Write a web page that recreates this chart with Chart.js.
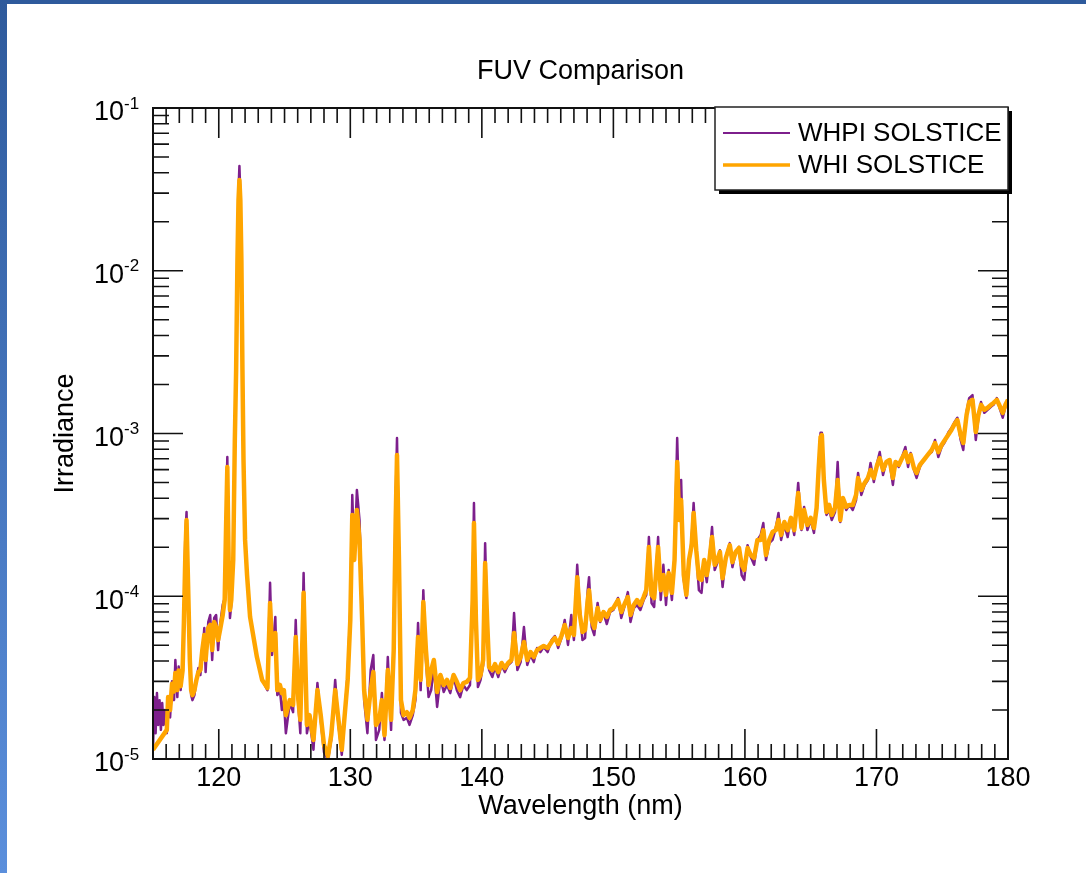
<!DOCTYPE html>
<html>
<head>
<meta charset="utf-8">
<title>FUV Comparison</title>
<script src="https://cdn.jsdelivr.net/npm/chart.js@4.4.1/dist/chart.umd.min.js"></script>
<style>
  html, body { margin: 0; padding: 0; background: #fff; }
  #wrap { position: relative; width: 1086px; height: 873px; overflow: hidden; }
  #wrap canvas { position: absolute; left: 0; top: 0; }
  .edge-top { position: absolute; left: 0; top: 0; width: 1086px; height: 4px; background: #2e5a9c; }
  .edge-left { position: absolute; left: 0; top: 0; width: 7px; height: 873px; background: linear-gradient(#2e5a9c, #5b8fdc); }
</style>
</head>
<body>
<div id="wrap">
  <canvas id="fuvChart" width="1086" height="873"></canvas>
  <div class="edge-top"></div>
  <div class="edge-left"></div>
</div>
<script>
// FUV solar irradiance, two SOLSTICE reference spectra

const wavelength = [
  115.0, 115.1, 115.2, 115.3, 115.4, 115.5, 115.6, 115.7, 115.8, 115.9,
  116.05, 116.15, 116.3, 116.45, 116.6, 116.7, 116.85, 116.95, 117.1, 117.25,
  117.35, 117.45, 117.55, 117.65, 117.8, 117.9, 118.0, 118.15, 118.3, 118.45,
  118.6, 118.75, 118.9, 119.0, 119.2, 119.35, 119.5, 119.65, 119.8, 119.95,
  120.1, 120.3, 120.45, 120.55, 120.65, 120.75, 120.85, 120.95, 121.1, 121.22,
  121.32, 121.42, 121.5, 121.57, 121.64, 121.72, 121.8, 121.88, 122.0, 122.15,
  122.38, 122.9, 123.3, 123.7, 123.9, 124.05, 124.3, 124.45, 124.65, 124.8,
  124.95, 125.1, 125.4, 125.65, 125.85, 126.05, 126.2, 126.45, 126.7, 126.9,
  127.2, 127.5, 127.75, 128.0, 128.3, 128.55, 128.85, 129.1, 129.35, 129.8,
  130.0, 130.15, 130.3, 130.5, 130.7, 130.9, 131.05, 131.3, 131.55, 131.75,
  131.95, 132.2, 132.4, 132.6, 132.85, 133.1, 133.3, 133.45, 133.55, 133.7,
  133.85, 134.05, 134.3, 134.5, 134.75, 134.95, 135.15, 135.35, 135.55, 135.75,
  135.95, 136.15, 136.35, 136.6, 136.85, 137.1, 137.35, 137.6, 137.85, 138.1,
  138.35, 138.6, 138.85, 139.1, 139.3, 139.4, 139.55, 139.7, 139.9, 140.1,
  140.25, 140.4, 140.55, 140.8, 141.0, 141.25, 141.5, 141.75, 142.0, 142.25,
  142.45, 142.7, 142.95, 143.2, 143.45, 143.7, 143.95, 144.2, 144.45, 144.7,
  145.0, 145.3, 145.55, 145.8, 146.05, 146.3, 146.55, 146.8, 147.0, 147.25,
  147.45, 147.65, 147.85, 148.05, 148.15, 148.35, 148.55, 148.8, 149.0, 149.25,
  149.5, 149.75, 150.0, 150.35, 150.6, 150.85, 151.1, 151.3, 151.55, 151.8,
  152.05, 152.3, 152.5, 152.7, 152.9, 153.1, 153.4, 153.6, 153.8, 154.0,
  154.2, 154.45, 154.65, 154.85, 155.0, 155.15, 155.35, 155.55, 155.75, 155.95,
  156.1, 156.3, 156.5, 156.7, 156.9, 157.1, 157.3, 157.5, 157.7, 157.9,
  158.1, 158.3, 158.55, 158.85, 159.05, 159.3, 159.55, 159.75, 159.95, 160.2,
  160.45, 160.7, 160.95, 161.2, 161.4, 161.6, 161.85, 162.1, 162.35, 162.55,
  162.75, 163.0, 163.25, 163.5, 163.75, 164.05, 164.3, 164.5, 164.75, 165.0,
  165.25, 165.45, 165.6, 165.75, 165.85, 166.0, 166.2, 166.4, 166.6, 166.85,
  167.05, 167.25, 167.45, 167.7, 167.95, 168.2, 168.45, 168.6, 168.85, 169.1,
  169.35, 169.55, 169.8, 170.05, 170.25, 170.5, 170.75, 171.0, 171.25, 171.45,
  171.7, 171.95, 172.2, 172.4, 172.6, 172.85, 173.05, 173.3, 173.6, 173.9,
  174.2, 174.45, 174.7, 174.95, 175.2, 175.45, 175.7, 175.9, 176.15, 176.4,
  176.6, 176.85, 177.05, 177.3, 177.55, 177.75, 177.95, 178.2, 178.45, 178.7,
  178.9, 179.15, 179.4, 179.6, 179.8, 180.0
];

// WHPI SOLSTICE irradiance
const whpi = [
  1.14e-5, 2.40e-5, 1.44e-5, 2.54e-5, 1.62e-5, 2.30e-5, 1.51e-5, 2.21e-5, 1.62e-5, 2.00e-5,
  1.44e-5, 2.30e-5, 1.80e-5, 3.00e-5, 2.30e-5, 4.06e-5, 2.40e-5, 3.70e-5, 2.65e-5, 3.60e-5,
  7.00e-5, 2.22e-4, 3.29e-4, 1.45e-4, 4.06e-5, 2.47e-5, 2.30e-5, 2.47e-5, 3.06e-5, 3.62e-5,
  3.28e-5, 4.36e-5, 6.38e-5, 3.42e-5, 6.95e-5, 7.67e-5, 4.06e-5, 7.35e-5, 7.67e-5, 4.67e-5,
  6.66e-5, 8.84e-5, 9.75e-5, 2.94e-4, 7.17e-4, 1.67e-4, 7.35e-5, 8.84e-5, 1.67e-4, 9.10e-4,
  2.46e-3, 1.16e-2, 3.10e-2, 4.40e-2, 2.90e-2, 1.16e-2, 2.46e-3, 6.90e-4, 2.22e-4, 1.35e-4,
  7.46e-5, 4.23e-5, 3.06e-5, 2.65e-5, 1.21e-4, 4.36e-5, 7.46e-5, 2.47e-5, 2.65e-5, 2.00e-5,
  2.30e-5, 1.44e-5, 2.21e-5, 1.94e-5, 7.15e-5, 2.15e-5, 1.44e-5, 1.39e-4, 1.44e-5, 1.74e-5,
  1.14e-5, 2.93e-5, 1.74e-5, 1.10e-5, 9.86e-6, 1.31e-5, 3.06e-5, 1.62e-5, 1.06e-5, 3.38e-5,
  8.23e-5, 4.19e-4, 1.67e-4, 4.50e-4, 2.94e-4, 8.59e-5, 2.30e-5, 1.44e-5, 3.52e-5, 4.36e-5,
  1.31e-5, 1.51e-5, 2.54e-5, 1.31e-5, 4.23e-5, 1.51e-5, 5.38e-5, 3.90e-4, 9.38e-4, 1.79e-4,
  1.92e-5, 1.74e-5, 1.79e-5, 1.62e-5, 1.86e-5, 2.30e-5, 6.85e-5, 2.65e-5, 1.09e-4, 4.06e-5,
  2.40e-5, 2.65e-5, 3.67e-5, 2.09e-5, 3.15e-5, 2.58e-5, 2.85e-5, 2.54e-5, 3.19e-5, 2.65e-5,
  2.40e-5, 2.85e-5, 2.65e-5, 2.85e-5, 1.09e-4, 3.74e-4, 7.67e-5, 2.77e-5, 3.06e-5, 3.78e-5,
  2.12e-4, 7.15e-5, 3.52e-5, 3.19e-5, 3.67e-5, 3.19e-5, 3.78e-5, 3.42e-5, 3.78e-5, 3.94e-5,
  7.89e-5, 3.52e-5, 3.94e-5, 6.47e-5, 3.78e-5, 4.36e-5, 3.94e-5, 4.81e-5, 4.54e-5, 4.88e-5,
  4.54e-5, 5.38e-5, 5.70e-5, 4.81e-5, 5.54e-5, 7.15e-5, 5.02e-5, 7.67e-5, 5.38e-5, 1.56e-4,
  8.23e-5, 5.38e-5, 5.54e-5, 1.09e-4, 1.31e-4, 6.47e-5, 5.78e-5, 9.09e-5, 6.95e-5, 7.89e-5,
  6.75e-5, 8.00e-5, 8.23e-5, 9.75e-5, 7.35e-5, 8.71e-5, 1.06e-4, 6.95e-5, 8.47e-5, 8.84e-5,
  8.23e-5, 9.48e-5, 1.02e-4, 2.31e-4, 9.09e-5, 8.59e-5, 2.31e-4, 9.48e-5, 1.56e-4, 8.84e-5,
  1.45e-4, 9.48e-5, 1.79e-4, 9.38e-4, 3.39e-4, 5.18e-4, 1.26e-4, 9.75e-5, 1.62e-4, 2.22e-4,
  3.74e-4, 1.87e-4, 1.09e-4, 1.05e-4, 1.60e-4, 1.22e-4, 1.72e-4, 2.66e-4, 1.45e-4, 1.60e-4,
  1.92e-4, 1.14e-4, 1.74e-4, 2.12e-4, 1.51e-4, 1.87e-4, 2.01e-4, 1.35e-4, 1.26e-4, 2.06e-4,
  1.74e-4, 1.56e-4, 2.22e-4, 2.38e-4, 2.82e-4, 1.67e-4, 2.12e-4, 2.22e-4, 2.63e-4, 3.25e-4,
  2.22e-4, 2.74e-4, 2.31e-4, 3.03e-4, 2.38e-4, 4.97e-4, 2.55e-4, 3.54e-4, 2.55e-4, 2.94e-4,
  2.45e-4, 3.64e-4, 5.97e-4, 1.01e-3, 1.01e-3, 5.04e-4, 3.16e-4, 3.39e-4, 2.94e-4, 3.29e-4,
  6.68e-4, 2.86e-4, 3.90e-4, 3.39e-4, 3.64e-4, 3.39e-4, 3.90e-4, 5.72e-4, 4.19e-4, 4.83e-4,
  5.18e-4, 6.59e-4, 5.04e-4, 6.59e-4, 7.69e-4, 5.56e-4, 6.68e-4, 6.68e-4, 4.83e-4, 6.68e-4,
  6.23e-4, 7.17e-4, 8.26e-4, 6.23e-4, 7.59e-4, 5.97e-4, 5.33e-4, 6.23e-4, 6.87e-4, 7.38e-4,
  7.69e-4, 9.12e-4, 7.17e-4, 8.26e-4, 8.87e-4, 1.01e-3, 1.08e-3, 1.16e-3, 1.25e-3, 9.12e-4,
  7.92e-4, 1.36e-3, 1.65e-3, 1.72e-3, 9.12e-4, 1.25e-3, 1.56e-3, 1.34e-3, 1.40e-3, 1.46e-3,
  1.50e-3, 1.65e-3, 1.40e-3, 1.25e-3, 1.46e-3, 1.61e-3
];

// WHI SOLSTICE irradiance (no samples between 115.0 and 116.05 nm)
const whi = [
  1.14e-5, null, null, null, null, null, null, null, null, null,
  1.51e-5, 2.40e-5, 2.00e-5, 2.90e-5, 2.60e-5, 3.38e-5, 2.65e-5, 3.50e-5, 2.80e-5, 3.50e-5,
  7.00e-5, 1.67e-4, 2.94e-4, 1.35e-4, 4.06e-5, 2.65e-5, 2.47e-5, 2.65e-5, 3.06e-5, 3.42e-5,
  3.52e-5, 4.67e-5, 5.78e-5, 4.06e-5, 6.38e-5, 6.66e-5, 4.67e-5, 6.95e-5, 6.47e-5, 5.38e-5,
  6.21e-5, 7.67e-5, 9.48e-5, 2.55e-4, 6.23e-4, 1.67e-4, 8.23e-5, 9.48e-5, 1.67e-4, 9.10e-4,
  2.46e-3, 1.16e-2, 2.72e-2, 3.61e-2, 2.72e-2, 1.16e-2, 2.46e-3, 6.90e-4, 2.22e-4, 1.35e-4,
  7.46e-5, 4.23e-5, 3.06e-5, 2.73e-5, 9.09e-5, 4.67e-5, 5.94e-5, 2.65e-5, 2.85e-5, 2.54e-5,
  2.65e-5, 1.86e-5, 2.30e-5, 2.15e-5, 5.62e-5, 2.30e-5, 1.74e-5, 1.05e-4, 1.62e-5, 1.86e-5,
  1.31e-5, 2.65e-5, 1.86e-5, 1.22e-5, 1.04e-5, 1.40e-5, 2.65e-5, 1.74e-5, 1.14e-5, 3.06e-5,
  7.15e-5, 3.16e-4, 1.67e-4, 3.39e-4, 2.22e-4, 7.15e-5, 2.65e-5, 1.74e-5, 2.65e-5, 3.42e-5,
  1.62e-5, 1.74e-5, 2.30e-5, 1.40e-5, 3.52e-5, 1.74e-5, 4.67e-5, 2.94e-4, 7.38e-4, 1.67e-4,
  2.30e-5, 1.86e-5, 1.94e-5, 1.79e-5, 2.00e-5, 2.65e-5, 5.62e-5, 3.06e-5, 9.22e-5, 4.67e-5,
  2.85e-5, 3.52e-5, 4.06e-5, 2.58e-5, 3.28e-5, 2.85e-5, 3.06e-5, 2.73e-5, 3.28e-5, 2.98e-5,
  2.65e-5, 2.93e-5, 2.98e-5, 3.15e-5, 9.48e-5, 2.82e-4, 7.15e-5, 3.06e-5, 3.28e-5, 4.06e-5,
  1.60e-4, 7.15e-5, 3.67e-5, 3.52e-5, 3.83e-5, 3.42e-5, 3.89e-5, 3.62e-5, 3.89e-5, 4.06e-5,
  5.94e-5, 3.83e-5, 4.23e-5, 5.24e-5, 4.06e-5, 4.54e-5, 4.23e-5, 4.67e-5, 4.81e-5, 4.95e-5,
  4.81e-5, 5.24e-5, 5.54e-5, 5.09e-5, 5.70e-5, 6.66e-5, 5.54e-5, 6.38e-5, 5.78e-5, 1.31e-4,
  7.67e-5, 6.03e-5, 6.21e-5, 9.48e-5, 1.09e-4, 7.15e-5, 6.38e-5, 8.47e-5, 7.15e-5, 8.00e-5,
  7.46e-5, 8.23e-5, 8.47e-5, 9.48e-5, 8.00e-5, 8.96e-5, 9.89e-5, 7.67e-5, 8.84e-5, 9.48e-5,
  8.84e-5, 9.89e-5, 1.09e-4, 2.01e-4, 1.02e-4, 9.75e-5, 2.01e-4, 1.09e-4, 1.35e-4, 1.02e-4,
  1.39e-4, 1.05e-4, 1.67e-4, 6.68e-4, 2.94e-4, 3.90e-4, 1.35e-4, 1.02e-4, 1.67e-4, 2.06e-4,
  3.25e-4, 1.92e-4, 1.29e-4, 1.26e-4, 1.67e-4, 1.35e-4, 1.67e-4, 2.31e-4, 1.56e-4, 1.67e-4,
  1.87e-4, 1.29e-4, 1.72e-4, 2.06e-4, 1.62e-4, 1.87e-4, 1.98e-4, 1.56e-4, 1.45e-4, 1.98e-4,
  1.79e-4, 1.72e-4, 2.22e-4, 2.22e-4, 2.55e-4, 1.79e-4, 2.22e-4, 2.48e-4, 2.55e-4, 2.94e-4,
  2.38e-4, 2.86e-4, 2.55e-4, 3.03e-4, 2.55e-4, 4.31e-4, 2.63e-4, 3.39e-4, 2.74e-4, 3.03e-4,
  2.63e-4, 3.49e-4, 5.97e-4, 9.52e-4, 9.79e-4, 5.18e-4, 3.29e-4, 3.64e-4, 3.16e-4, 3.49e-4,
  5.18e-4, 2.94e-4, 4.01e-4, 3.54e-4, 3.64e-4, 3.64e-4, 4.19e-4, 5.33e-4, 4.50e-4, 4.97e-4,
  5.33e-4, 5.97e-4, 5.33e-4, 6.41e-4, 7.07e-4, 5.97e-4, 6.68e-4, 6.87e-4, 5.33e-4, 6.68e-4,
  6.41e-4, 7.07e-4, 7.69e-4, 6.68e-4, 7.38e-4, 6.14e-4, 5.72e-4, 6.41e-4, 6.87e-4, 7.38e-4,
  7.92e-4, 8.74e-4, 7.69e-4, 8.50e-4, 9.12e-4, 9.79e-4, 1.05e-3, 1.13e-3, 1.21e-3, 9.79e-4,
  8.74e-4, 1.30e-3, 1.56e-3, 1.61e-3, 1.02e-3, 1.30e-3, 1.50e-3, 1.40e-3, 1.44e-3, 1.50e-3,
  1.54e-3, 1.61e-3, 1.46e-3, 1.34e-3, 1.50e-3, 1.61e-3
];

const seriesNames = ['WHPI SOLSTICE', 'WHI SOLSTICE'];
const seriesColors = ['#7d1f8c', '#ffa500'];

// axis ranges and labelled ticks
const xMin = 115, xMax = 180;
const xTickLabels = [120, 130, 140, 150, 160, 170, 180];
const yMin = 1e-5, yMax = 1e-1;
const yExponents = [-1, -2, -3, -4, -5];

const FONT = '"Liberation Sans", Arial, Helvetica, sans-serif';

function toPoints(values) {
  return wavelength.map((w, i) => ({ x: w, y: values[i] }));
}

// inward ticks on all four sides, the box, and all the text
const plotFrame = {
  id: 'plotFrame',
  afterDatasetsDraw(chart) {
    const { ctx, chartArea: a, scales: { x, y } } = chart;
    ctx.save();
    ctx.strokeStyle = '#111';
    ctx.lineWidth = 1.6;
    ctx.beginPath();
    for (let w = xMin; w <= xMax; w++) {
      const px = x.getPixelForValue(w);
      const len = w % 10 === 0 ? 30 : 15;
      ctx.moveTo(px, a.bottom); ctx.lineTo(px, a.bottom - len);
      ctx.moveTo(px, a.top); ctx.lineTo(px, a.top + len);
    }
    for (let e = -5; e <= -1; e++) {
      for (let m = 1; m <= 9; m++) {
        const v = m * Math.pow(10, e);
        if (v > yMax * 1.0001) break;
        const py = y.getPixelForValue(v);
        const len = m === 1 ? 30 : 16;
        ctx.moveTo(a.left, py); ctx.lineTo(a.left + len, py);
        ctx.moveTo(a.right, py); ctx.lineTo(a.right - len, py);
      }
    }
    ctx.stroke();

    ctx.lineWidth = 2;
    ctx.strokeRect(a.left, a.top, a.right - a.left, a.bottom - a.top);

    ctx.fillStyle = '#000';
    ctx.textBaseline = 'middle';

    // x tick labels
    ctx.font = '27px ' + FONT;
    ctx.textAlign = 'center';
    xTickLabels.forEach(v => ctx.fillText(String(v), x.getPixelForValue(v), a.bottom + 20));

    // y tick labels as 10 with a raised exponent
    yExponents.forEach(e => {
      const py = y.getPixelForValue(Math.pow(10, e));
      ctx.font = '27px ' + FONT;
      ctx.textAlign = 'right';
      ctx.fillText('10', 124, py + 5);
      ctx.font = '17px ' + FONT;
      ctx.textAlign = 'left';
      ctx.fillText(String(e), 124, py - 4);
    });

    // titles
    ctx.font = '27px ' + FONT;
    ctx.textAlign = 'center';
    ctx.fillText('FUV Comparison', (a.left + a.right) / 2, 72);
    ctx.fillText('Wavelength (nm)', (a.left + a.right) / 2, a.bottom + 48);
    ctx.save();
    ctx.translate(66, (a.top + a.bottom) / 2);
    ctx.rotate(-Math.PI / 2);
    ctx.fillText('Irradiance', 0, 0);
    ctx.restore();
    ctx.restore();
  },
  afterDraw(chart) {
    // boxed legend with a drop shadow in the top right corner
    const { ctx, chartArea: a } = chart;
    const right = a.right, top = a.top - 1, w = 293, h = 83;
    const left = right - w;
    ctx.save();
    ctx.fillStyle = '#000';
    ctx.fillRect(left + 4, top + 4, w, h);
    ctx.fillStyle = '#fff';
    ctx.fillRect(left, top, w, h);
    ctx.strokeStyle = '#222';
    ctx.lineWidth = 1.5;
    ctx.strokeRect(left, top, w, h);
    ctx.font = '26px ' + FONT;
    ctx.textBaseline = 'middle';
    ctx.textAlign = 'left';
    chart.data.datasets.forEach((ds, i) => {
      const ly = top + 26 + i * 32;
      ctx.strokeStyle = ds.borderColor;
      ctx.lineWidth = i === 0 ? 2 : 3.5;
      ctx.beginPath();
      ctx.moveTo(left + 8, ly);
      ctx.lineTo(left + 75, ly);
      ctx.stroke();
      ctx.fillStyle = '#000';
      ctx.fillText(ds.label, left + 83, ly + 1);
    });
    ctx.restore();
  }
};

new Chart(document.getElementById('fuvChart'), {
  type: 'line',
  data: {
    datasets: [
      {
        label: seriesNames[0],
        data: toPoints(whpi),
        borderColor: seriesColors[0],
        borderWidth: 2.5,
        order: 1
      },
      {
        label: seriesNames[1],
        data: toPoints(whi),
        borderColor: seriesColors[1],
        borderWidth: 4.5,
        spanGaps: true,
        order: 0
      }
    ]
  },
  options: {
    responsive: false,
    animation: false,
    devicePixelRatio: 1,
    layout: { padding: { left: 153, right: 78, top: 108, bottom: 114 } },
    elements: {
      point: { radius: 0 },
      line: { tension: 0, borderJoinStyle: 'round', fill: false }
    },
    plugins: {
      legend: { display: false },
      title: { display: false },
      tooltip: { enabled: false }
    },
    scales: {
      x: { type: 'linear', min: xMin, max: xMax, display: false },
      y: { type: 'logarithmic', min: yMin, max: yMax, display: false }
    }
  },
  plugins: [plotFrame]
});
</script>
</body>
</html>
